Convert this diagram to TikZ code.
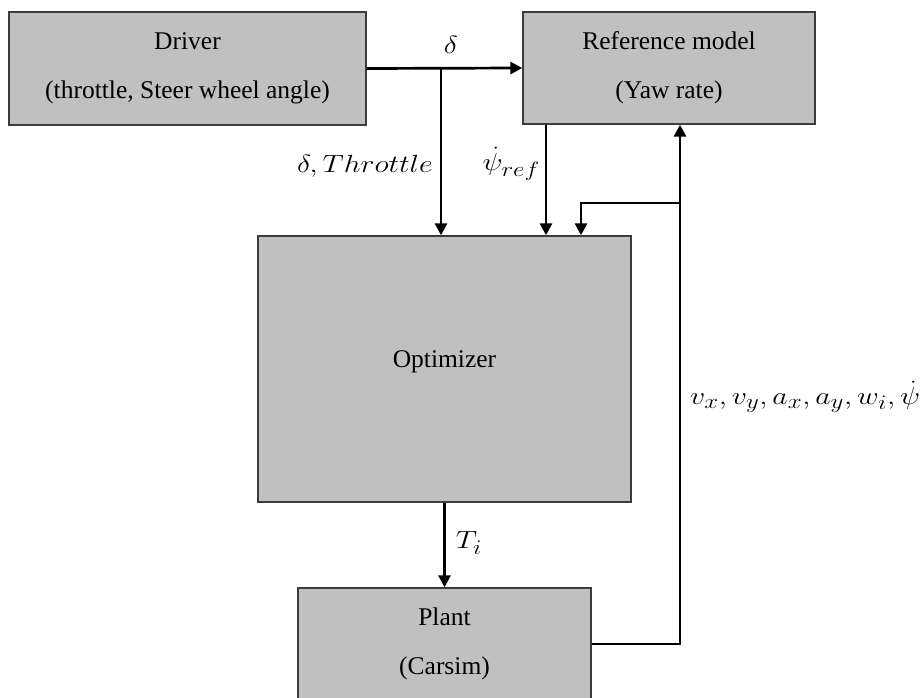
\documentclass[tikz,border=0pt]{standalone}
\usepackage{fontspec}
\setmainfont{Liberation Serif}
\usepackage{tikz}
\usetikzlibrary{
  arrows.meta,
  positioning,
  calc,
}

\definecolor{boxgray}{HTML}{C0C0C0}
\definecolor{edgegray}{HTML}{3C3C3C}

\newcommand{\widemath}[1]{\scalebox{1.2}[1]{$#1$}}

\begin{document}
\begin{tikzpicture}[
  x=1pt, y=-1pt,
  font=\fontsize{25.5}{27}\selectfont,
  box/.style={draw=edgegray, fill=boxgray, line width=1.4pt, align=center, inner sep=0pt},
  sig/.style={line width=2.7pt, -{Triangle[length=12pt,width=12pt]}},
  sym/.style={font=\fontsize{28}{30}\selectfont, inner sep=1pt},
]
  \useasboundingbox (0,0) rectangle (922,698);
  \clip (0,0) rectangle (922,698);

  % Blocks
  \node[box, minimum width=357pt, minimum height=113pt] (driver)    at (187.5,68.5)
    {Driver\\[22pt](throttle, Steer wheel angle)};
  \node[box, minimum width=292pt, minimum height=112pt] (refmodel)  at (669,68)
    {Reference model\\[22pt](Yaw rate)};
  \node[box, minimum width=373pt, minimum height=266pt] (optimizer) at (444.5,369)
    {\raisebox{20pt}{Optimizer}};
  \node[box, minimum width=293pt, minimum height=112pt] (plant)     at (444.5,644)
    {Plant\\[22pt](Carsim)};

  % Branch and feedback points
  \coordinate (split) at (441,68);
  \coordinate (psix) at (546,0);
  \coordinate (fbcorner) at (680,644);
  \coordinate (fbsplit) at (680,203);
  \coordinate (fbturn) at (581,203);

  % Signals
  \draw[sig] (driver.east) -- (refmodel.west);
  \draw[sig] (split) -- (split |- optimizer.north);
  \draw[sig] (psix |- refmodel.south) -- (psix |- optimizer.north);
  \draw[sig] (optimizer.south) -- (plant.north);
  \draw[sig] (plant.east) -- (fbcorner) -- (fbcorner |- refmodel.south);
  \draw[sig] (fbsplit) -- (fbturn) -- (fbturn |- optimizer.north);

  % Signal labels
  \node[sym] (dlbl)   at (451,45)  {\widemath{\delta}};
  \node[sym, anchor=east] (thrlbl) at (434,166) {\widemath{\delta, Throttle}};
  \node[sym, anchor=east] (psilbl) at (541,164) {\widemath{\dot{\psi}_{ref}}};
  \node[sym] (tlbl)   at (469,543) {\widemath{T_i}};
  \node[sym, anchor=west] (stlbl)  at (689,397) {\widemath{v_x, v_y, a_x, a_y, w_i, \dot{\psi}}};
\end{tikzpicture}
\end{document}
